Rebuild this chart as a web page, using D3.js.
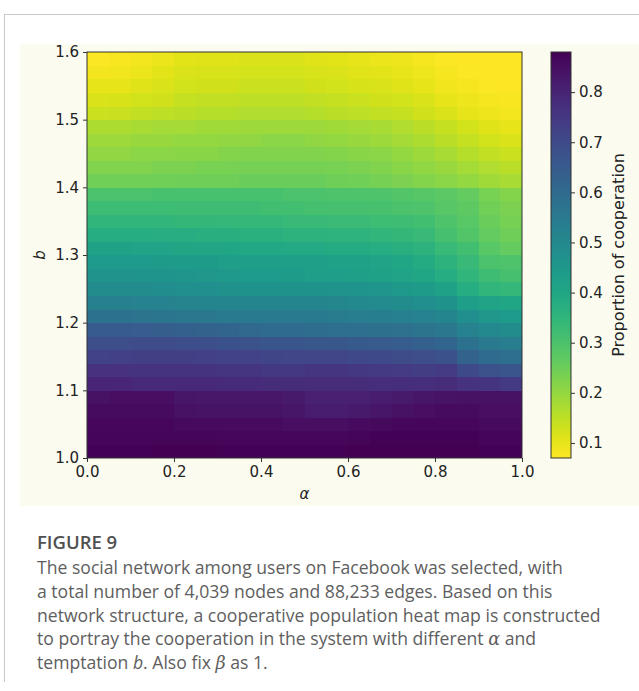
<!DOCTYPE html>
<html>
<head>
<meta charset="utf-8">
<script src="https://cdn.jsdelivr.net/npm/d3@7"></script>
<style>
  html, body { margin: 0; padding: 0; background: #ffffff; }
  svg { display: block; }
  .tick text { font-family: "DejaVu Sans", sans-serif; }
</style>
</head>
<body>
<svg id="chart" width="639" height="691"></svg>
<script>
// ---------- data ----------
const alphaStart = [0.00,0.05,0.10,0.15,0.20,0.25,0.30,0.35,0.40,0.45,0.50,0.55,0.60,0.65,0.70,0.75,0.80,0.85,0.90,0.95];
const alphaStep = 0.05;
const bStart = [1.00,1.02,1.04,1.06,1.08,1.10,1.12,1.14,1.16,1.18,1.20,1.22,1.24,1.26,1.28,1.30,1.32,1.34,1.36,1.38,1.40,1.42,1.44,1.46,1.48,1.50,1.52,1.54,1.56,1.58];
const bStep = 0.02;
// proportion of cooperation; one row per b (bottom to top), one value per alpha column
const cooperation = [
  [.875,.875,.875,.88,.88,.88,.875,.875,.875,.875,.875,.875,.88,.88,.88,.88,.88,.88,.875,.875],
  [.87,.87,.87,.87,.87,.87,.865,.865,.865,.865,.865,.865,.87,.875,.875,.875,.875,.875,.87,.87],
  [.865,.865,.865,.865,.86,.86,.855,.855,.855,.85,.85,.85,.855,.86,.865,.865,.865,.865,.86,.86],
  [.855,.855,.855,.855,.845,.84,.84,.84,.84,.835,.815,.815,.825,.835,.845,.85,.855,.855,.85,.85],
  [.845,.85,.85,.85,.835,.83,.83,.83,.83,.825,.805,.805,.805,.815,.825,.835,.84,.845,.845,.845],
  [.795,.795,.79,.79,.79,.79,.785,.785,.78,.78,.78,.78,.78,.775,.775,.775,.78,.765,.755,.745],
  [.765,.765,.76,.76,.76,.76,.755,.755,.75,.75,.755,.755,.75,.745,.74,.735,.74,.70,.675,.665],
  [.72,.725,.73,.73,.73,.725,.72,.72,.715,.71,.71,.71,.705,.70,.695,.69,.68,.625,.60,.59],
  [.69,.69,.695,.695,.69,.685,.68,.675,.67,.665,.66,.66,.655,.65,.645,.635,.62,.575,.55,.54],
  [.65,.65,.645,.64,.635,.63,.62,.61,.60,.60,.595,.59,.59,.585,.58,.57,.56,.52,.50,.49],
  [.575,.575,.57,.565,.56,.555,.55,.55,.55,.55,.55,.545,.54,.535,.53,.52,.51,.48,.45,.44],
  [.53,.53,.525,.52,.515,.51,.51,.51,.51,.51,.51,.505,.50,.495,.49,.48,.47,.43,.41,.40],
  [.49,.49,.49,.485,.48,.48,.475,.47,.47,.47,.47,.465,.46,.455,.445,.435,.42,.38,.35,.34],
  [.465,.465,.46,.46,.455,.45,.445,.44,.44,.435,.43,.43,.425,.42,.41,.40,.38,.35,.32,.31],
  [.44,.44,.44,.435,.435,.435,.43,.43,.43,.425,.425,.42,.42,.41,.40,.385,.36,.335,.30,.295],
  [.415,.415,.41,.41,.405,.405,.40,.395,.395,.39,.39,.385,.385,.38,.37,.36,.335,.315,.28,.265],
  [.38,.38,.38,.375,.375,.37,.37,.365,.365,.36,.36,.355,.355,.35,.345,.335,.31,.29,.265,.25],
  [.35,.35,.35,.35,.345,.345,.34,.34,.34,.335,.335,.33,.33,.325,.32,.315,.295,.28,.255,.24],
  [.325,.325,.325,.325,.32,.32,.32,.32,.315,.315,.31,.31,.31,.305,.30,.295,.285,.27,.245,.23],
  [.30,.30,.30,.305,.305,.305,.305,.305,.305,.30,.30,.295,.295,.295,.29,.285,.275,.265,.235,.22],
  [.245,.245,.245,.245,.25,.25,.25,.255,.255,.255,.255,.25,.245,.24,.23,.22,.21,.20,.185,.175],
  [.225,.225,.225,.23,.23,.235,.235,.24,.24,.24,.24,.235,.23,.225,.215,.205,.195,.18,.165,.155],
  [.205,.205,.21,.21,.215,.215,.22,.225,.225,.225,.225,.22,.215,.21,.20,.19,.175,.16,.145,.135],
  [.19,.19,.195,.195,.20,.20,.205,.205,.21,.21,.205,.20,.195,.19,.18,.17,.155,.14,.125,.115],
  [.17,.17,.175,.18,.18,.185,.185,.19,.19,.19,.19,.185,.18,.175,.165,.155,.14,.125,.11,.10],
  [.135,.138,.145,.15,.155,.16,.16,.165,.165,.165,.16,.155,.15,.145,.14,.13,.115,.10,.09,.085],
  [.115,.118,.125,.13,.14,.145,.145,.15,.15,.15,.145,.14,.135,.13,.125,.115,.10,.09,.082,.078],
  [.10,.10,.11,.115,.125,.13,.13,.135,.135,.135,.13,.125,.12,.115,.11,.10,.088,.08,.075,.072],
  [.085,.088,.095,.105,.115,.12,.12,.125,.125,.125,.12,.115,.11,.105,.10,.09,.08,.075,.072,.07],
  [.075,.078,.085,.095,.105,.11,.11,.115,.115,.115,.11,.105,.10,.095,.09,.082,.075,.072,.07,.07]
];
const xTicks = [0.0,0.2,0.4,0.6,0.8,1.0];
const yTicks = [1.0,1.1,1.2,1.3,1.4,1.5,1.6];
const cbTicks = [0.1,0.2,0.3,0.4,0.5,0.6,0.7,0.8];
const captionTitle = "FIGURE 9";

// ---------- layout ----------
const svg = d3.select("#chart");
const plot = {left: 87, right: 522, top: 52, bottom: 458};
const cb = {left: 551, right: 571};

// frame lines & panel background
svg.append("line").attr("x1",4).attr("x2",639).attr("y1",14.5).attr("y2",14.5)
   .attr("stroke","#c8c8c8").attr("stroke-width",1);
svg.append("line").attr("x1",4.5).attr("x2",4.5).attr("y1",14).attr("y2",682)
   .attr("stroke","#c8c8c8").attr("stroke-width",1);
svg.append("rect").attr("x",20).attr("y",44).attr("width",619).attr("height",462)
   .attr("fill","#fbfcef");

const x = d3.scaleLinear().domain([0,1]).range([plot.left, plot.right]);
const y = d3.scaleLinear().domain([1.0,1.6]).range([plot.bottom, plot.top]);

const flat = cooperation.flat();
const [vmin, vmax] = d3.extent(flat);
const color = d3.scaleSequential(d3.interpolateViridis).domain([vmax, vmin]);

// heatmap cells
const cells = [];
bStart.forEach((b, i) => alphaStart.forEach((a, j) => cells.push({a, b, v: cooperation[i][j]})));
svg.append("g").selectAll("rect").data(cells).join("rect")
  .attr("x", d => x(d.a))
  .attr("y", d => y(d.b + bStep))
  .attr("width", d => x(d.a + alphaStep) - x(d.a) + 0.4)
  .attr("height", d => y(d.b) - y(d.b + bStep) + 0.4)
  .attr("fill", d => color(d.v))
  .attr("shape-rendering","crispEdges");

// spines
svg.append("rect").attr("x",plot.left).attr("y",plot.top)
  .attr("width",plot.right-plot.left).attr("height",plot.bottom-plot.top)
  .attr("fill","none").attr("stroke","#333").attr("stroke-width",1);

const fmt = d3.format(".1f");
const xAxis = svg.append("g").attr("transform",`translate(0,${plot.bottom})`)
  .call(d3.axisBottom(x).tickValues(xTicks).tickFormat(fmt).tickSize(4).tickPadding(4));
const yAxis = svg.append("g").attr("transform",`translate(${plot.left},0)`)
  .call(d3.axisLeft(y).tickValues(yTicks).tickFormat(fmt).tickSize(4).tickPadding(4));
[xAxis, yAxis].forEach(g => {
  g.select(".domain").remove();
  g.selectAll(".tick line").attr("stroke","#333");
  g.selectAll(".tick text").attr("fill","#222").style("font-size","15px");
});

// axis labels
svg.append("text").attr("x",(plot.left+plot.right)/2).attr("y",499)
  .attr("text-anchor","middle").attr("font-family","DejaVu Sans").attr("font-style","italic")
  .attr("font-size",15).attr("fill","#222").text("α");
svg.append("text").attr("transform",`translate(45,${(plot.top+plot.bottom)/2}) rotate(-90)`)
  .attr("text-anchor","middle").attr("font-family","DejaVu Sans").attr("font-style","italic")
  .attr("font-size",15).attr("fill","#222").text("b");

// colorbar
const cy = d3.scaleLinear().domain([vmin, vmax]).range([plot.bottom, plot.top]);
const defs = svg.append("defs");
const grad = defs.append("linearGradient").attr("id","cbgrad")
  .attr("x1","0").attr("x2","0").attr("y1","1").attr("y2","0");
d3.range(0, 1.0001, 0.05).forEach(t => {
  grad.append("stop").attr("offset", t).attr("stop-color", color(vmin + t*(vmax-vmin)));
});
svg.append("rect").attr("x",cb.left).attr("y",plot.top)
  .attr("width",cb.right-cb.left).attr("height",plot.bottom-plot.top)
  .attr("fill","url(#cbgrad)").attr("stroke","#333").attr("stroke-width",1);
const cbAxis = svg.append("g").attr("transform",`translate(${cb.right},0)`)
  .call(d3.axisRight(cy).tickValues(cbTicks).tickFormat(fmt).tickSize(4).tickPadding(4));
cbAxis.select(".domain").remove();
cbAxis.selectAll(".tick line").attr("stroke","#333");
cbAxis.selectAll(".tick text").attr("fill","#222").style("font-size","15px");
svg.append("text").attr("transform",`translate(624,${(plot.top+plot.bottom)/2}) rotate(-90)`)
  .attr("text-anchor","middle").attr("font-family","DejaVu Sans")
  .attr("font-size",16).attr("fill","#222").text("Proportion of cooperation");

// caption
const cap = svg.append("g").attr("font-family","'Open Sans', sans-serif").attr("fill","#5e5e5e");
cap.append("text").attr("x",37).attr("y",549).attr("font-size",18.5).attr("font-weight",600)
  .attr("fill","#505050").text(captionTitle);
const lines = [
  [["The social network among users on Facebook was selected, with", false]],
  [["a total number of 4,039 nodes and 88,233 edges. Based on this", false]],
  [["network structure, a cooperative population heat map is constructed", false]],
  [["to portray the cooperation in the system with different ", false], ["α", true], [" and", false]],
  [["temptation ", false], ["b", true], [". Also fix ", false], ["β", true], [" as 1.", false]]
];
const baselines = [574, 598, 622, 645, 669];
lines.forEach((parts, i) => {
  const t = cap.append("text").attr("x",37).attr("y",baselines[i]).attr("font-size",17.6);
  parts.forEach(([s, it]) => {
    const ts = t.append("tspan").text(s);
    if (it) ts.attr("font-style","italic").attr("font-family", s === "b" ? "'Open Sans', sans-serif" : "'DejaVu Serif', serif");
  });
});
</script>
</body>
</html>
